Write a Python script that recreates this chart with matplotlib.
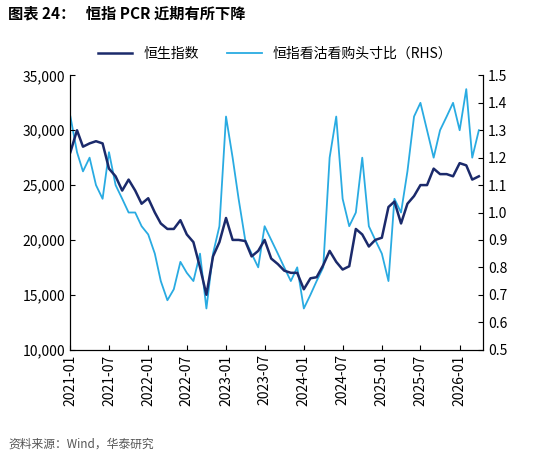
import matplotlib
matplotlib.use("Agg")
import matplotlib.pyplot as plt
import matplotlib.dates as mdates
import pandas as pd

plt.rcParams['font.family'] = ['Noto Sans CJK SC', 'DejaVu Sans']

dates = pd.date_range("2021-01-01", "2026-04-01", freq="MS")
hsi = [28000, 30000, 28500, 28800, 29000, 28800, 26500, 25800, 24500, 25500, 24500, 23300,
       23800, 22500, 21500, 21000, 21000, 21800, 20500, 19800, 17500, 15000, 18500, 19800,
       22000, 20000, 20000, 19900, 18500, 19000, 20000, 18300, 17800, 17200, 17000, 17000,
       15500, 16500, 16600, 17700, 19000, 18000, 17300, 17600, 21000, 20500, 19400, 20000,
       20200, 23000, 23500, 21500, 23300, 24000, 25000, 25000, 26500, 26000, 26000, 25800,
       27000, 26800, 25500, 25800]
pcr = [1.35, 1.22, 1.15, 1.2, 1.1, 1.05, 1.22, 1.1, 1.05, 1.0, 1.0, 0.95,
       0.92, 0.85, 0.75, 0.68, 0.72, 0.82, 0.78, 0.75, 0.85, 0.65, 0.85, 0.95,
       1.35, 1.2, 1.05, 0.9, 0.85, 0.8, 0.95, 0.9, 0.85, 0.8, 0.75, 0.8,
       0.65, 0.7, 0.75, 0.8, 1.2, 1.35, 1.05, 0.95, 1.0, 1.2, 0.95, 0.9,
       0.85, 0.75, 1.05, 1.0, 1.15, 1.35, 1.4, 1.3, 1.2, 1.3, 1.35, 1.4,
       1.3, 1.45, 1.2, 1.3]

fig = plt.figure(figsize=(5.5, 4.57), dpi=100)
ax = fig.add_axes([0.128, 0.235, 0.75, 0.6])
ax2 = ax.twinx()
l2, = ax2.plot(dates, pcr, color='#29abe2', lw=1.3, label='恒指看沽看购头寸比（RHS）')
l1, = ax.plot(dates, hsi, color='#1b2a6b', lw=1.8, label='恒生指数')
ax.set_zorder(ax2.get_zorder() + 1); ax.patch.set_visible(False)
ax.set_ylim(10000, 35000); ax.set_yticks(range(10000, 35001, 5000))
ax.yaxis.set_major_formatter(matplotlib.ticker.FuncFormatter(lambda v, p: f"{int(v):,}"))
ax2.set_ylim(0.5, 1.5); ax2.set_yticks([0.5 + 0.1 * i for i in range(11)])
ax2.yaxis.set_major_formatter(matplotlib.ticker.FormatStrFormatter('%.1f'))
ax.set_xlim(pd.Timestamp("2021-01-01"), pd.Timestamp("2026-04-20"))
ax.xaxis.set_major_locator(mdates.MonthLocator(bymonth=[1, 7]))
ax.xaxis.set_major_formatter(mdates.DateFormatter('%Y-%m'))
for lab in ax.get_xticklabels():
    lab.set_rotation(90)
for a in (ax, ax2):
    a.tick_params(labelsize=10, direction='in')
    a.spines['top'].set_visible(False)
fig.legend([l1, l2], [l1.get_label(), l2.get_label()], loc='upper center',
           bbox_to_anchor=(0.5, 0.925), ncol=2, frameon=False, fontsize=10, handlelength=2.5)
fig.text(0.015, 0.96, '图表 24：   恒指 PCR 近期有所下降', fontsize=11, fontweight='bold')
fig.text(0.015, 0.02, '资料来源：Wind，华泰研究', fontsize=8.5, color='#555555')
fig.savefig('out.png', dpi=100)
